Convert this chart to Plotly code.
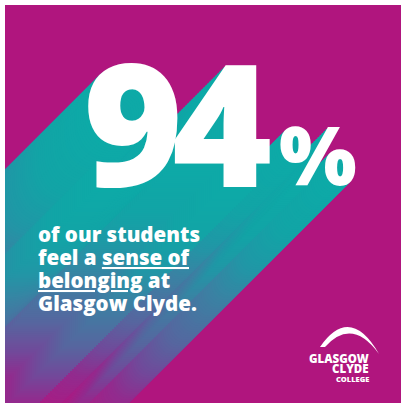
import plotly.graph_objects as go

# ---- content ----
stat_value = "94"
stat_unit = "%"
caption_lines = ["of our students", "feel a <u>sense of</u>", "<u>belonging</u> at", "Glasgow Clyde."]
logo_lines = ["GLASGOW", "CLYDE", "COLLEGE"]

# long-shadow gradient stops: offset (px) -> colour
shadow_offsets = [0, 50, 85, 115, 160, 190, 215, 245, 275]
shadow_colors = ["#0DAAA7", "#12A4A6", "#2097A6", "#3A82A3", "#56669F",
                 "#72489A", "#922B8E", "#A81C84", "#B0157E"]

BG = "#B0157E"
FONT = "Open Sans"
MAX_OFF = 300
STEP = 2


def hex_rgb(h):
    h = h.lstrip("#")
    return tuple(int(h[i:i + 2], 16) for i in (0, 2, 4))


def colour_at(k):
    for i in range(len(shadow_offsets) - 1):
        a, b = shadow_offsets[i], shadow_offsets[i + 1]
        if a <= k <= b:
            t = (k - a) / (b - a)
            ca, cb = hex_rgb(shadow_colors[i]), hex_rgb(shadow_colors[i + 1])
            return "rgb(%d,%d,%d)" % tuple(round(ca[j] + (cb[j] - ca[j]) * t) for j in range(3))
    return BG


# glyphs of the headline figure, with their placement (left x, baseline y, font size)
glyphs = list(stat_value) + [stat_unit]
glyph_x = [83, 172, 279]
glyph_base = [187, 187, 185]
glyph_size = [171, 171, 82]

xs, ys, texts, cols, sizes = [], [], [], [], []
for k in range(MAX_OFF, -1, -STEP):
    c = "white" if k == 0 else colour_at(k)
    for g, gx, gb, gs in zip(glyphs, glyph_x, glyph_base, glyph_size):
        xs.append(gx - k)
        ys.append(gb - 0.25 * gs + k)
        texts.append(g)
        cols.append(c)
        sizes.append(gs)

fig = go.Figure()
fig.add_trace(go.Scatter(
    x=xs, y=ys, text=texts, mode="text", textposition="middle right",
    textfont=dict(color=cols, size=sizes, family=FONT, weight=800),
    hoverinfo="skip", cliponaxis=True, showlegend=False,
))

annotations = []
cap_y = [234, 257, 280, 303]
for line, yy in zip(caption_lines, cap_y):
    annotations.append(dict(
        x=37, y=yy, xref="x", yref="y", text=line, showarrow=False,
        xanchor="left", yanchor="middle", borderpad=0,
        font=dict(family=FONT, size=20.5, color="white", weight=800),
    ))

logo_y = [358, 368, 379]
logo_sizes = [11.5, 11.5, 7.5]
for line, yy, sz in zip(logo_lines, logo_y, logo_sizes):
    annotations.append(dict(
        x=370, y=yy, xref="x", yref="y", text=line, showarrow=False,
        xanchor="right", yanchor="middle", borderpad=0,
        font=dict(family=FONT, size=sz, color="white", weight=800),
    ))

fig.update_layout(
    width=402, height=406,
    margin=dict(l=5, r=1, t=5, b=3),
    paper_bgcolor="white", plot_bgcolor=BG,
    xaxis=dict(range=[5, 401], visible=False, fixedrange=True),
    yaxis=dict(range=[403, 5], visible=False, fixedrange=True),
    annotations=annotations,
    shapes=[dict(
        type="path", xref="x", yref="y", layer="above",
        path="M 320,347 Q 350,304 379,354 Q 352,317 325,347 Z",
        fillcolor="white", line=dict(width=0),
    )],
)

fig.write_html(
    "out.html",
    config={"displayModeBar": False, "staticPlot": True},
    post_script="document.body.style.margin='0';document.body.style.overflow='hidden';",
)
